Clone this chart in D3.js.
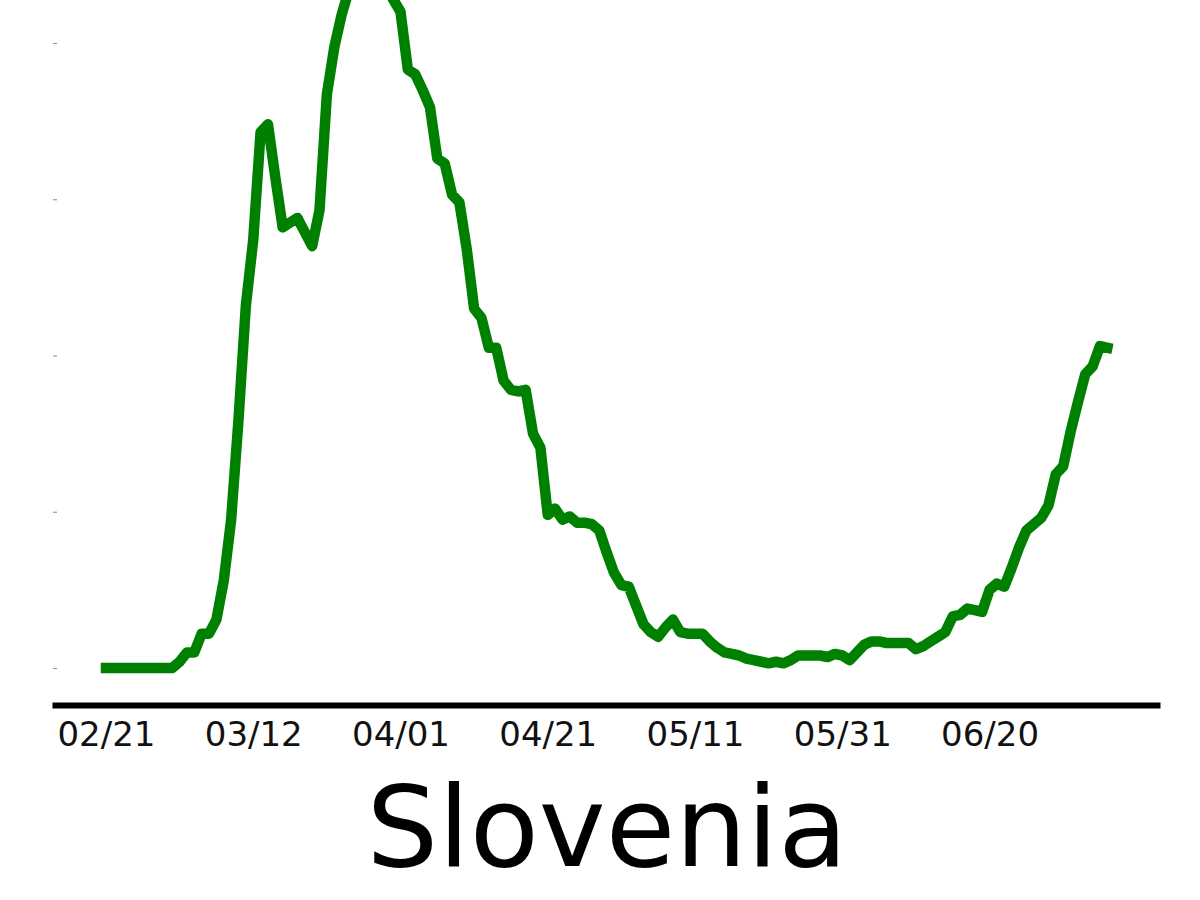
<!DOCTYPE html>
<html>
<head>
<meta charset="utf-8">
<script src="https://cdn.jsdelivr.net/npm/d3@7"></script>
<style>
  body { margin: 0; background: #fff; }
  svg { display: block; font-family: "DejaVu Sans", sans-serif; }
</style>
</head>
<body>
<div id="my_dataviz"></div>
<script>
// data: one value per day starting 02/21
var startDate = "2020-02-21";
var values = [
    0, 0, 0, 0, 0, 0, 0, 0, 0, 0,
    0.4, 1.0, 1.0, 2.2, 2.2, 3.1, 5.6, 9.5, 15.9, 23.2,
    27.4, 34.3, 34.8, 31.4, 28.2, 28.5, 28.8, 27.9, 27.0, 29.3,
    36.7, 39.7, 41.8, 43.4, 44.2, 44.6, 44.6, 44.3, 43.6, 42.8,
    42.0, 38.3, 38.0, 37.0, 35.9, 32.6, 32.3, 30.3, 29.8, 26.8,
    23.0, 22.4, 20.5, 20.5, 18.4, 17.8, 17.7, 17.8, 15.0, 14.1,
    9.8, 10.2, 9.5, 9.7, 9.3, 9.3, 9.2, 8.8, 7.4, 6.1,
    5.3, 5.2, 4.0, 2.8, 2.3, 2.0, 2.6, 3.1, 2.3, 2.2,
    2.2, 2.2, 1.7, 1.3, 1.0, 0.9, 0.8, 0.6, 0.5, 0.4,
    0.3, 0.4, 0.3, 0.5, 0.8, 0.8, 0.8, 0.8, 0.7, 0.9,
    0.8, 0.5, 1.0, 1.5, 1.7, 1.7, 1.6, 1.6, 1.6, 1.6,
    1.2, 1.4, 1.7, 2.0, 2.3, 3.3, 3.4, 3.8, 3.7, 3.6,
    5.0, 5.4, 5.2, 6.4, 7.7, 8.8, 9.2, 9.6, 10.4, 12.4,
    12.9, 15.1, 17.0, 18.8, 19.3, 20.6, 20.5
];
var xTickLabels = ["02/21", "03/12", "04/01", "04/21", "05/11", "05/31", "06/20"];
var yTicks = [0, 10, 20, 30, 40];
var title = "Slovenia";

var width = 1200, height = 900;
var parse = d3.timeParse("%Y-%m-%d");
var parseTick = d3.timeParse("%Y/%m/%d");
var start = parse(startDate);

var data = values.map(function(v, i) {
    return {date: d3.timeDay.offset(start, i), value: v};
});
var tickDates = xTickLabels.map(function(t) { return parseTick("2020/" + t); });

// axis limits, a few days of padding on each side like matplotlib
var first = data[0].date, last = data[data.length - 1].date;
var span = last - first;
var x = d3.scaleTime()
    .domain([new Date(+first - span * 0.0539), new Date(+last + span * 0.0526)])
    .range([52, 1160]);

var y = d3.scaleLinear()
    .domain([0, 40])
    .range([668, 43]);

var svg = d3.select("#my_dataviz")
    .append("svg")
    .attr("width", width)
    .attr("height", height);

// faint y ticks, no labels
var yAxis = svg.append("g")
    .attr("transform", "translate(57,0)")
    .call(d3.axisLeft(y).tickValues(yTicks).tickSize(4).tickFormat(""));
yAxis.select(".domain").remove();
yAxis.selectAll("line").attr("stroke", "#9a9a9a").attr("stroke-width", 1.2);

// x axis
var xAxis = svg.append("g")
    .attr("transform", "translate(0,705)")
    .call(d3.axisBottom(x)
        .tickValues(tickDates)
        .tickSize(0)
        .tickSizeOuter(0)
        .tickFormat(function(d, i) { return xTickLabels[i]; }));
xAxis.select(".domain")
    .attr("stroke", "#000")
    .attr("stroke-width", 6);
xAxis.selectAll("text")
    .attr("y", 41)
    .attr("dy", 0)
    .attr("fill", "#111")
    .style("font-family", "'DejaVu Sans', sans-serif")
    .style("font-size", "34px");

// the line
svg.append("path")
    .datum(data)
    .attr("fill", "none")
    .attr("stroke", "#008000")
    .attr("stroke-width", 10.5)
    .attr("stroke-linejoin", "round")
    .attr("stroke-linecap", "square")
    .attr("d", d3.line()
        .x(function(d) { return x(d.date); })
        .y(function(d) { return y(d.value); }));

// title
svg.append("text")
    .attr("x", 607)
    .attr("y", 866)
    .attr("text-anchor", "middle")
    .attr("fill", "#000")
    .style("font-size", "113px")
    .text(title);
</script>
</body>
</html>
